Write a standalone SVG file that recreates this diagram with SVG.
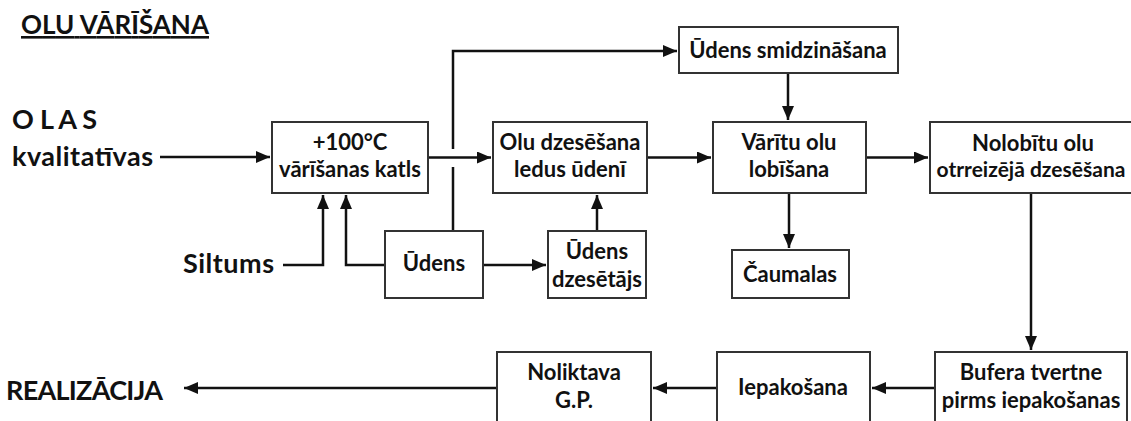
<svg xmlns="http://www.w3.org/2000/svg" width="1131" height="421" viewBox="0 0 1131 421">
<style>
text{font-family:Lato,"Open Sans",sans-serif;font-weight:bold;fill:#111}
.big{font-size:27px}
.bx{font-size:22px;text-anchor:middle}
.box{fill:#fff;stroke:#333;stroke-width:2}
.ln{fill:none;stroke:#111;stroke-width:2.5}
</style>
<defs>
<marker id="ah" viewBox="0 0 14 12" refX="14" refY="6" markerWidth="14" markerHeight="12" markerUnits="userSpaceOnUse" orient="auto">
<path d="M0,0 L14,6 L0,12 z" fill="#111"/>
</marker>
</defs>
<rect width="1131" height="421" fill="#fff"/>
<g id="labels">
<text x="21" y="34" textLength="188" style="font-size:26px;text-decoration:underline">OLU VĀRĪŠANA</text>
<text class="big" x="12" y="129" textLength="85">O L A S</text>
<text class="big" x="12" y="166" textLength="141">kvalitatīvas</text>
<text class="big" x="183" y="273" textLength="91">Siltums</text>
<text class="big" x="6" y="400" textLength="157">REALIZĀCIJA</text>
</g>
<g id="connectors">
<path class="ln" d="M160,157 H270" marker-end="url(#ah)"/>
<path class="ln" d="M428,157.5 H491" marker-end="url(#ah)"/>
<path class="ln" d="M453,231 V167 M453,149 V51 H677" marker-end="url(#ah)"/>
<path class="ln" d="M788,73 V120" marker-end="url(#ah)"/>
<path class="ln" d="M647,157.5 H711" marker-end="url(#ah)"/>
<path class="ln" d="M866,157.5 H928" marker-end="url(#ah)"/>
<path class="ln" d="M789,193 V248" marker-end="url(#ah)"/>
<path class="ln" d="M1031,193 V350" marker-end="url(#ah)"/>
<path class="ln" d="M935,388 H872" marker-end="url(#ah)"/>
<path class="ln" d="M717,388 H653" marker-end="url(#ah)"/>
<path class="ln" d="M497,388 H184" marker-end="url(#ah)"/>
<path class="ln" d="M283,265 H323 V195" marker-end="url(#ah)"/>
<path class="ln" d="M385,265 H346 V195" marker-end="url(#ah)"/>
<path class="ln" d="M483,265 H546" marker-end="url(#ah)"/>
<path class="ln" d="M597,231 V195" marker-end="url(#ah)"/>
</g>
<g id="katls"><rect class="box" x="272" y="122" width="156" height="71"/>
<text class="bx" x="350" y="150">+100°C</text><text class="bx" x="350" y="177">vārīšanas katls</text></g>
<g id="smidzinasana"><rect class="box" x="679" y="27" width="219" height="46"/>
<text class="bx" x="788" y="58">Ūdens smidzināšana</text></g>
<g id="dzesesana"><rect class="box" x="493" y="122" width="154" height="71"/>
<text class="bx" x="570" y="150">Olu dzesēšana</text><text class="bx" x="570" y="177">ledus ūdenī</text></g>
<g id="lobisana"><rect class="box" x="713" y="122" width="153" height="71"/>
<text class="bx" x="789" y="150">Vārītu olu</text><text class="bx" x="789" y="177">lobīšana</text></g>
<g id="nolobitu"><rect class="box" x="930" y="122" width="202" height="71"/>
<text class="bx" x="1033" y="151">Nolobītu olu</text><text class="bx" x="1031" y="177" style="font-size:21px">otrreizējā dzesēšana</text></g>
<g id="caumalas"><rect class="box" x="732" y="250" width="117" height="48"/>
<text class="bx" x="790" y="282">Čaumalas</text></g>
<g id="udens"><rect class="box" x="385" y="231" width="98" height="67"/>
<text class="bx" x="434" y="271">Ūdens</text></g>
<g id="dzesetajs"><rect class="box" x="548" y="231" width="98" height="67"/>
<text class="bx" x="597" y="259">Ūdens</text><text class="bx" x="597" y="287">dzesētājs</text></g>
<g id="bufera"><rect class="box" x="935" y="352" width="192" height="80"/>
<text class="bx" x="1031" y="380">Bufera tvertne</text><text class="bx" x="1031" y="408">pirms iepakošanas</text></g>
<g id="iepakosana"><rect class="box" x="717" y="352" width="153" height="80"/>
<text class="bx" x="793" y="395">Iepakošana</text></g>
<g id="noliktava"><rect class="box" x="497" y="352" width="154" height="80"/>
<text class="bx" x="574" y="380">Noliktava</text><text class="bx" x="574" y="408">G.P.</text></g>
</svg>
